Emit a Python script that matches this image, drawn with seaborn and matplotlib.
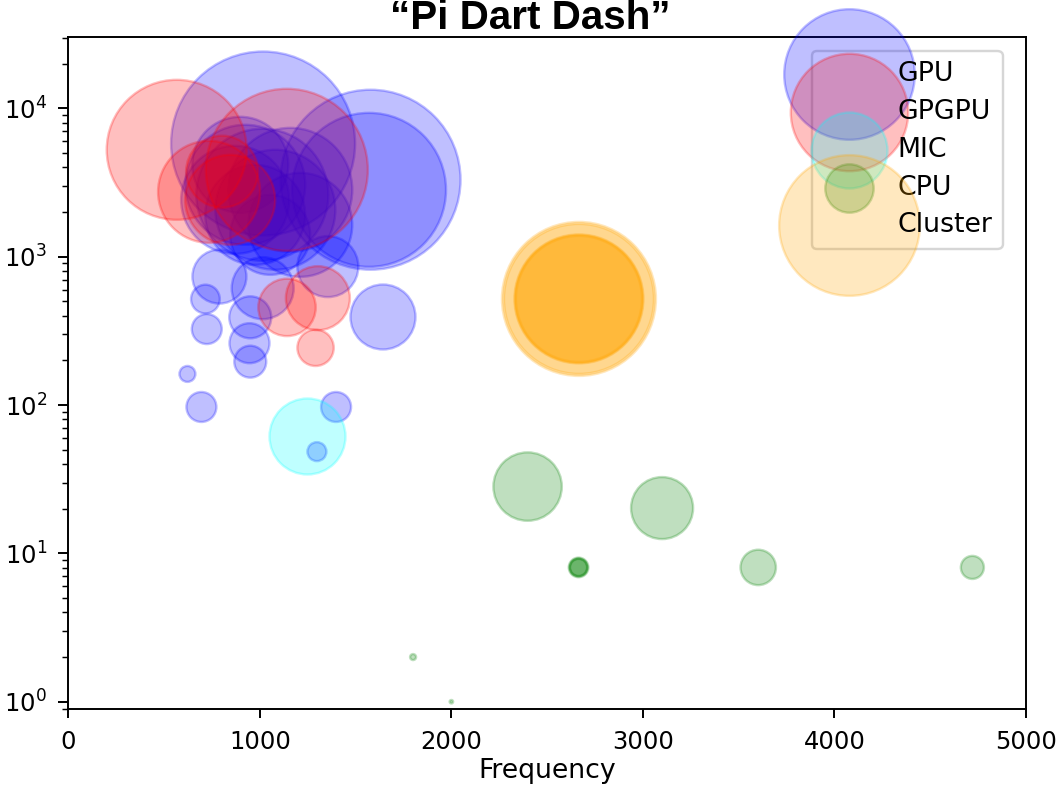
import pandas as pd
import matplotlib
matplotlib.use("Agg")
import matplotlib.pyplot as plt
import numpy as np
import seaborn as sb

# values (frequency, value, bubble area)
gpu_freq = [1017, 1578, 1570, 1013, 924, 1081, 871, 1159, 976, 1211, 1054, 898,
            789, 1015, 1355, 1643, 716, 723, 950, 946, 950, 622, 695, 1398, 1298]
gpu_val = [5790, 3300, 2820, 2612, 3050, 2070, 2415, 2820, 1914, 1638, 1403, 4160,
           734, 613, 857, 392, 518, 325, 390, 261, 196, 162, 97, 97, 48.5]
gpu_size = [5730, 5484, 4014, 2949, 2437, 2437, 1974, 2602, 1693, 1831, 1083, 1560,
            494, 651, 630, 715, 140, 152, 299, 271, 173, 43, 152, 152, 61]

gpgpu_freq = [566, 1141, 735, 803, 845, 1142, 1303, 1291]
gpgpu_val = [5250, 3850, 2735, 3740, 2415, 455, 525, 243]
gpgpu_size = [3317, 4442, 1761, 877, 1371, 558, 693, 224]

mic_freq = [1244]
mic_val = [61.9]
mic_size = [978]

cpu_freq = [2398, 3100, 2664, 2664, 2664, 3602, 4720, 1800, 2000]
cpu_val = [28.2, 20.2, 8.04, 8.04, 8.04, 8.04, 8.04, 2.0, 1.0]
cpu_size = [792, 651, 65, 55, 49, 212, 90, 6, 2]

cluster_freq = [2666, 2666, 2666, 2666, 2666]
cluster_val = [519, 519, 519, 519, 519]
cluster_size = [4014, 3808, 2817, 2773, 2687]

groups = ['GPU', 'GPGPU', 'MIC', 'CPU', 'Cluster']
colors = ['blue', 'red', 'cyan', 'green', 'orange']
freqs = [gpu_freq, gpgpu_freq, mic_freq, cpu_freq, cluster_freq]
vals = [gpu_val, gpgpu_val, mic_val, cpu_val, cluster_val]
sizes = [gpu_size, gpgpu_size, mic_size, cpu_size, cluster_size]

sb.set_style("ticks", {"axes.edgecolor": "black", "xtick.color": "black",
                       "ytick.color": "black", "text.color": "black",
                       "axes.labelcolor": "black"})
plt.rcParams['font.family'] = ['DejaVu Sans']
plt.rcParams.update({"xtick.major.size": 3.8, "ytick.major.size": 4.0,
                     "ytick.minor.size": 2.5, "xtick.major.pad": 4.8,
                     "ytick.major.pad": 4.8, "ytick.minor.pad": 4.8})

fig = plt.figure(figsize=(1063/175, 785/175), dpi=175)
ax = fig.add_axes([68.3/1063, 1-709.3/785, (1026-68.3)/1063, (709.3-37.3)/785])

for g, c, f, v, s in zip(groups, colors, freqs, vals, sizes):
    df = pd.DataFrame({'Frequency': f, 'value': v, 'size': s})
    sb.scatterplot(data=df, x='Frequency', y='value', s=df['size'].values,
                   color=c, edgecolor=c, linewidth=1.0, alpha=0.25,
                   label=g, legend=False, ax=ax)

ax.set_yscale('log')
ax.set_xlim(0, 5000)
ax.set_ylim(0.889, 30100)
ax.set_xticks([0, 1000, 2000, 3000, 4000, 5000])
ax.set_xlabel('Frequency', fontsize=11, labelpad=1.5)
ax.set_ylabel('')
ax.set_title('“Pi Dart Dash”', fontsize=16.6, fontweight='bold',
             family='Liberation Sans', pad=0, x=0.482)
ax.legend(loc='upper right', fontsize=11, labelspacing=0.44,
          bbox_to_anchor=(0.9896, 1.0))
fig.savefig('out.png', dpi=175)
